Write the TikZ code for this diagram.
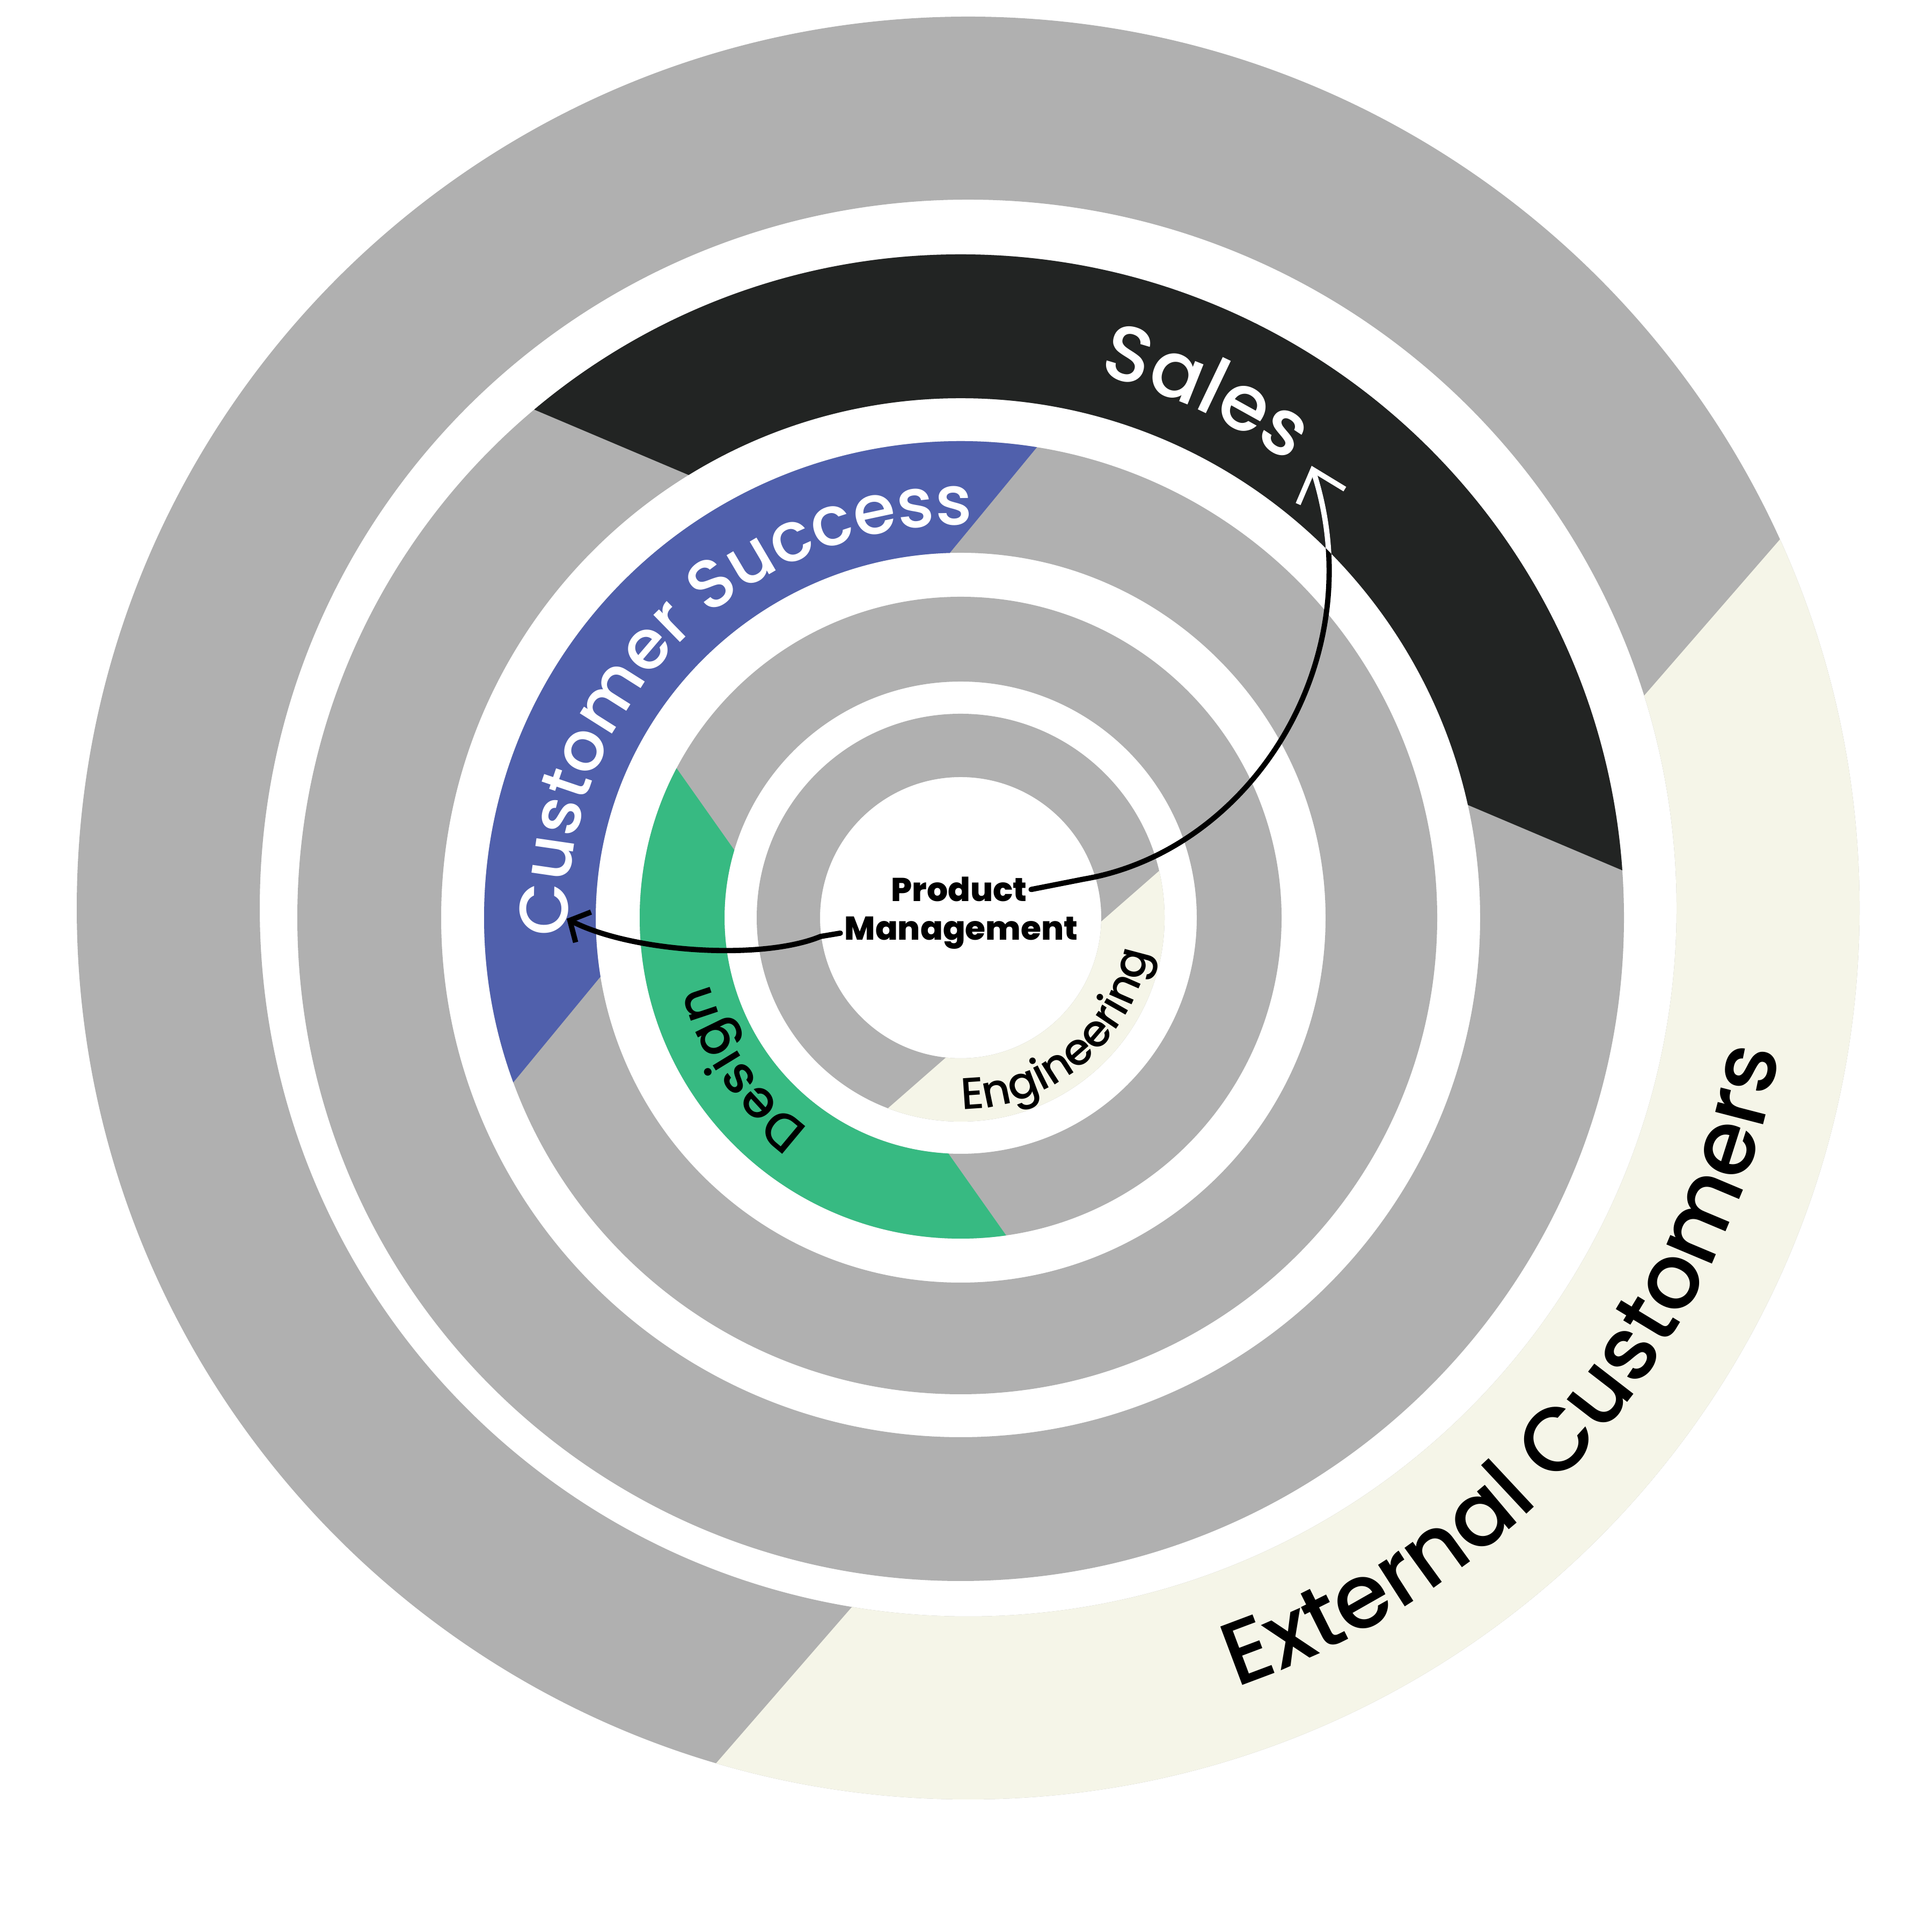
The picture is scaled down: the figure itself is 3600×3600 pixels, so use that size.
\documentclass[tikz,border=0pt]{standalone}
\usepackage{fontspec}
\newfontfamily\pop[UprightFont=* Medium, BoldFont=* ExtraBold]{Poppins}
\usetikzlibrary{decorations.text, arrows.meta}
\definecolor{ringgray}{RGB}{176,176,176}
\definecolor{salesblack}{RGB}{34,36,35}
\definecolor{csblue}{RGB}{80,96,172}
\definecolor{dgreen}{RGB}{55,186,130}
\definecolor{cream}{RGB}{245,245,232}
% #1 centre, #2 outer radius, #3 inner radius, #4 normal angle, #5 cut distance, #6 colour
\newcommand{\ringpart}[6]{%
  \begin{scope}
    \clip[shift={#1}, rotate=#4] (#5,-4000) rectangle (4000,4000);
    \fill[#6, even odd rule] #1 circle[radius=#2] #1 circle[radius=#3];
  \end{scope}}
\newcommand{\ringfull}[3]{%
  \fill[ringgray, even odd rule] #1 circle[radius=#2] #1 circle[radius=#3];}
\begin{document}
\begin{tikzpicture}[x=0.01cm, y=0.01cm,
  flowarrow/.style={line width=2.8pt, line cap=round},
  pmtext/.style={font=\pop\bfseries\fontsize{17.5}{21}\selectfont, inner sep=2pt, anchor=base}]
\useasboundingbox (0,0) rectangle (3600,3600);
\fill[white] (0,0) rectangle (3600,3600);
\coordinate (c1) at (1804,1908);
\coordinate (c) at (1790,1890);

% rings
\ringfull{(c1)}{1661}{1320}
\ringpart{(c1)}{1661}{1320}{-41}{691}{cream}
\ringfull{(c)}{1236}{968}
\ringpart{(c)}{1236}{968}{67.05}{562}{salesblack}
\ringfull{(c)}{888}{680}
\ringpart{(c)}{888}{680}{140.5}{448}{csblue}
\ringfull{(c)}{598}{440}
\ringpart{(c)}{598}{440}{215.2}{272}{dgreen}
\ringfull{(c)}{380}{262}
\ringpart{(c)}{380}{262}{-48.8}{178}{cream}

% ring labels
\path[decorate, decoration={text along path, text align=center,
  text={|\pop\fontsize{47.5}{57}\selectfont|External Customers}}]
  (c1) ++(-80.5:1535) arc[start angle=-80.5, end angle=-0.5, radius=1535];
\path[decorate, decoration={text along path, text align=center, text color=white,
  text={|\pop\fontsize{41.5}{49}\selectfont|Sales}}]
  (c) ++(88:1045) arc[start angle=88, end angle=42, radius=1045];
\path[decorate, decoration={text along path, text align=center, text color=white,
  text={|\pop\fontsize{36.5}{44}\selectfont|Customer Success}}]
  (c) ++(185.5:732) arc[start angle=185.5, end angle=85.5, radius=732];
\path[decorate, decoration={text along path, text align=center,
  text={|\pop\fontsize{27.5}{33}\selectfont|Design}}]
  (c) ++(244:484) arc[start angle=244, end angle=185, radius=484];
\path[decorate, decoration={text along path, text align=center,
  text={|\pop\fontsize{23.5}{29}\selectfont|Engineering}}]
  (c) ++(-100:357) arc[start angle=-100, end angle=0, radius=357];

% centre label
\node[pmtext] (pm1) at (1787,1920) {Product};
\node[pmtext] (pm2) at (1791,1848) {Management};

% connectors
\coordinate (salesTip) at (2444,2732);
\coordinate (csTip) at (1056,1888);
\draw[flowarrow, -{Straight Barb[length=15pt,width=26pt]}]
  (pm1.east) -- (2020,1962) .. controls (2330,2015) and (2560,2370) .. (salesTip);
\begin{scope}
  \clip[shift={(c)}, rotate=67.05] (562,-4000) rectangle (4000,4000);
  \clip (c) ++(0:1236) arc[start angle=0, end angle=360, radius=1236]
        (c) ++(0:968) arc[start angle=360, end angle=0, radius=968];
  \draw[flowarrow, white, -{Straight Barb[length=15pt,width=26pt]}]
    (pm1.east) -- (2020,1962) .. controls (2330,2015) and (2560,2370) .. (salesTip);
\end{scope}
\draw[flowarrow, -{Straight Barb[length=8pt,width=18pt]}]
  (pm2.west) -- (1529,1855) .. controls (1420,1810) and (1180,1825) .. (csTip);
\end{tikzpicture}
\end{document}
